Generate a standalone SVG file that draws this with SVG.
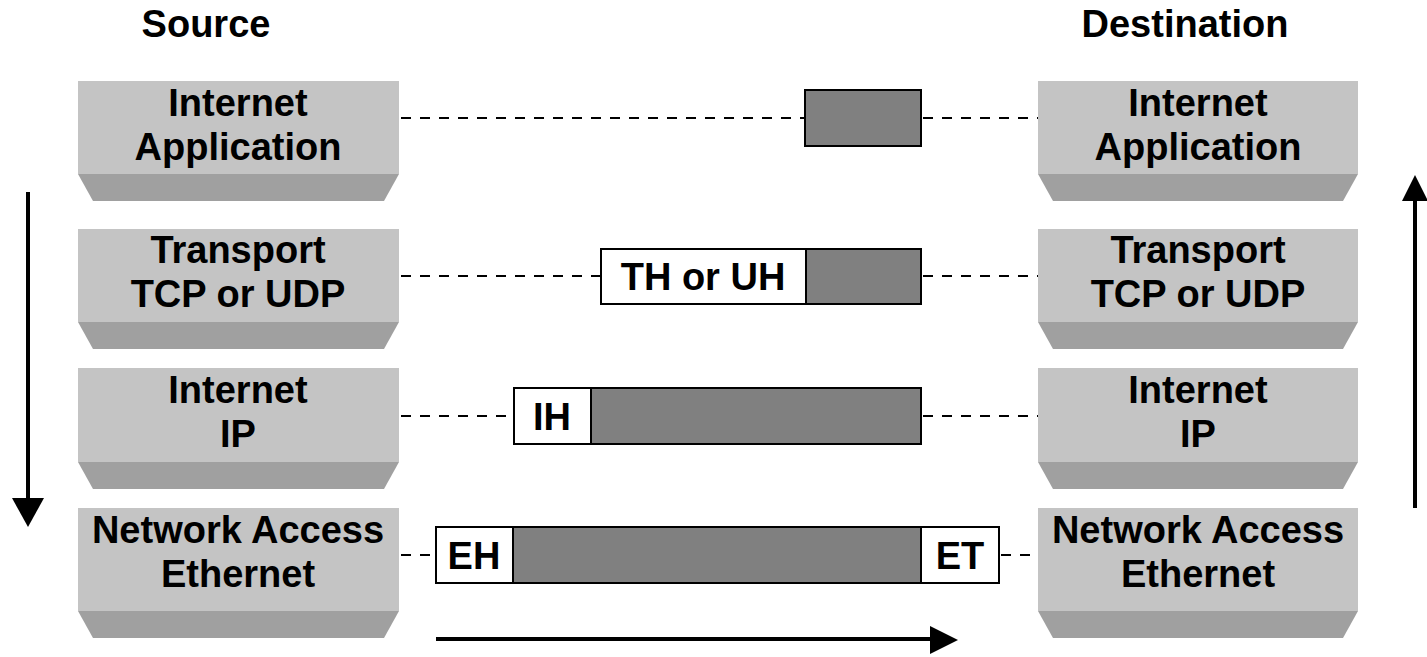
<svg xmlns="http://www.w3.org/2000/svg" width="1427" height="657" viewBox="0 0 1427 657">
<defs>
<style>
text{font-family:"Liberation Sans",Arial,sans-serif;font-weight:bold;font-size:38px;fill:#000;text-anchor:middle}
.face{fill:#c4c4c4}
.bevel{fill:#a0a0a0}
.dash{stroke:#000;stroke-width:2;stroke-dasharray:10 9;fill:none}
.hdr{fill:#fff;stroke:#000;stroke-width:2}
.data{fill:#808080;stroke:#000;stroke-width:2}
.arr{stroke:#000;stroke-width:4;fill:none}
</style>
</defs>
<rect width="1427" height="657" fill="#fff"/>
<text x="206" y="37">Source</text>
<text x="1185" y="37">Destination</text>

<g id="src-app"><rect class="face" x="78" y="81" width="321" height="93"/><polygon class="bevel" points="78,174 399,174 384,201 93,201"/><text x="238" y="116">Internet</text><text x="238" y="160">Application</text></g>
<g id="src-transport"><rect class="face" x="78" y="229" width="321" height="93"/><polygon class="bevel" points="78,322 399,322 384,349 93,349"/><text x="238" y="263">Transport</text><text x="238" y="307">TCP or UDP</text></g>
<g id="src-internet"><rect class="face" x="78" y="368" width="321" height="94"/><polygon class="bevel" points="78,462 399,462 384,489 93,489"/><text x="238" y="403">Internet</text><text x="238" y="447">IP</text></g>
<g id="src-netaccess"><rect class="face" x="78" y="508" width="321" height="103"/><polygon class="bevel" points="78,611 399,611 384,638 93,638"/><text x="238" y="543">Network Access</text><text x="238" y="587">Ethernet</text></g>

<g id="dst-app"><rect class="face" x="1038" y="81" width="320" height="93"/><polygon class="bevel" points="1038,174 1358,174 1343,201 1053,201"/><text x="1198" y="116">Internet</text><text x="1198" y="160">Application</text></g>
<g id="dst-transport"><rect class="face" x="1038" y="229" width="320" height="93"/><polygon class="bevel" points="1038,322 1358,322 1343,349 1053,349"/><text x="1198" y="263">Transport</text><text x="1198" y="307">TCP or UDP</text></g>
<g id="dst-internet"><rect class="face" x="1038" y="368" width="320" height="94"/><polygon class="bevel" points="1038,462 1358,462 1343,489 1053,489"/><text x="1198" y="403">Internet</text><text x="1198" y="447">IP</text></g>
<g id="dst-netaccess"><rect class="face" x="1038" y="508" width="320" height="103"/><polygon class="bevel" points="1038,611 1358,611 1343,638 1053,638"/><text x="1198" y="543">Network Access</text><text x="1198" y="587">Ethernet</text></g>

<g id="pdu-app"><rect class="data" x="805" y="90" width="116" height="56"/></g>
<g id="pdu-transport"><rect class="hdr" x="601" y="249" width="205" height="55"/><rect class="data" x="806" y="249" width="115" height="55"/><text x="703" y="290">TH or UH</text></g>
<g id="pdu-internet"><rect class="hdr" x="514" y="388" width="77" height="56"/><rect class="data" x="591" y="388" width="330" height="56"/><text x="552" y="430">IH</text></g>
<g id="pdu-netaccess"><rect class="hdr" x="436" y="527" width="77" height="56"/><rect class="data" x="513" y="527" width="408" height="56"/><rect class="hdr" x="921" y="527" width="78" height="56"/><text x="474" y="569">EH</text><text x="960" y="569">ET</text></g>

<g id="connectors">
<line class="dash" x1="401" y1="118" x2="805" y2="118"/>
<line class="dash" x1="923" y1="118" x2="1038" y2="118"/>
<line class="dash" x1="401" y1="276" x2="601" y2="276"/>
<line class="dash" x1="923" y1="276" x2="1038" y2="276"/>
<line class="dash" x1="401" y1="416" x2="514" y2="416"/>
<line class="dash" x1="923" y1="416" x2="1038" y2="416"/>
<line class="dash" x1="401" y1="555" x2="436" y2="555"/>
<line class="dash" x1="1001" y1="555" x2="1038" y2="555"/>
<line class="arr" x1="28" y1="192" x2="28" y2="500"/>
<polygon points="12,498 44,498 28,527" fill="#000"/>
<line class="arr" x1="1415" y1="508" x2="1415" y2="198"/>
<polygon points="1402,201 1428,201 1415,175" fill="#000"/>
<line class="arr" x1="436" y1="639" x2="932" y2="639"/>
<polygon points="930,626 930,654 958,640" fill="#000"/>
</g>
</svg>
